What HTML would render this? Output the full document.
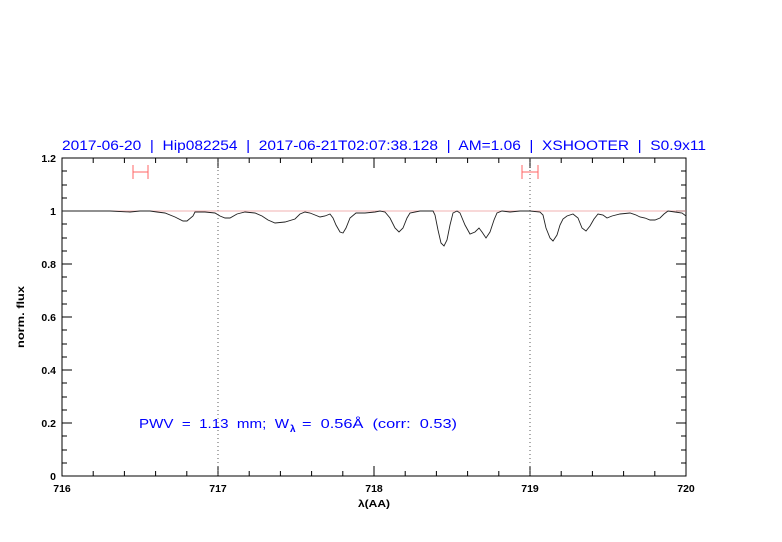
<!DOCTYPE html>
<html><head><style>body{margin:0;background:#fff}svg{display:block}</style></head><body>
<svg width="782" height="542" xmlns="http://www.w3.org/2000/svg" font-family="Liberation Sans, sans-serif">
<rect width="782" height="542" fill="#fff"/>
<text x="62" y="150" font-size="13.5" fill="#0000ff" textLength="644" lengthAdjust="spacingAndGlyphs" xml:space="preserve">2017-06-20  |  Hip082254  |  2017-06-21T02:07:38.128  |  AM=1.06  |  XSHOOTER  |  S0.9x11</text>
<g stroke="#000" stroke-width="1" fill="none">
<rect x="62" y="158" width="624" height="318"/>
<path d="M93.2,476v-5M124.4,476v-5M155.6,476v-5M186.8,476v-5M249.2,476v-5M280.4,476v-5M311.6,476v-5M342.8,476v-5M405.2,476v-5M436.4,476v-5M467.6,476v-5M498.8,476v-5M561.2,476v-5M592.4,476v-5M623.6,476v-5M654.8,476v-5
M218,476v-10M374,476v-10M530,476v-10
M93.2,158v5M124.4,158v5M155.6,158v5M186.8,158v5M249.2,158v5M280.4,158v5M311.6,158v5M342.8,158v5M405.2,158v5M436.4,158v5M467.6,158v5M498.8,158v5M561.2,158v5M592.4,158v5M623.6,158v5M654.8,158v5
M218,158v10M374,158v10M530,158v10"/>
<path d="M62,463h5M62,450h5M62,436h5M62,423h5M62,410h5M62,397h5M62,383h5M62,370h5M62,357h5M62,344h5M62,330h5M62,317h5M62,304h5M62,291h5M62,277h5M62,264h5M62,251h5M62,238h5M62,224h5M62,211h5M62,198h5M62,185h5M62,171h5M62,158h5
M62,423h10M62,370h10M62,317h10M62,264h10M62,211h10
M686,463h-5M686,450h-5M686,436h-5M686,423h-5M686,410h-5M686,397h-5M686,383h-5M686,370h-5M686,357h-5M686,344h-5M686,330h-5M686,317h-5M686,304h-5M686,291h-5M686,277h-5M686,264h-5M686,251h-5M686,238h-5M686,224h-5M686,198h-5M686,185h-5M686,171h-5
M686,423h-10M686,370h-10M686,317h-10M686,264h-10M686,211h-10"/>
</g>
<path d="M218,158V476M530,158V476" stroke="#333" stroke-width="0.8" stroke-dasharray="1,3"/>
<line x1="62" y1="211" x2="686" y2="211" stroke="#e99" stroke-width="0.7"/>
<path d="M133,165v14M148,165v14M133,172h15M522,165v14M538,165v14M522,172h16" stroke="#f66" stroke-width="1" fill="none"/>
<polyline fill="none" stroke="#222" stroke-width="0.9" points="62,211 72,211 110,211 130,212 140,211 150,211 157,212 165,213 175,217 183,221 187,221 193,216 195,212 205,212 215,213 220,216 225,218 230,218 237,214 245,212 255,213 262,216 268,220 275,223 285,222 295,219 300,214 305,212 310,213 315,215 320,217 325,216 330,214 333,218 336,225 340,232 343,233 346,228 350,218 356,213 365,213 375,212 380,211 385,212 390,218 395,228 399,232 403,228 407,218 410,213 420,211 433,211 435,215 438,230 441,243 444,246 447,240 450,225 453,213 457,211 460,213 465,225 470,234 475,232 479,228 482,232 486,238 490,232 494,220 497,213 502,211 510,212 520,211 530,211 540,212 543,215 546,228 550,238 553,241 557,235 560,225 563,219 567,216 573,214 578,218 582,228 586,231 590,226 594,219 598,214 603,215 607,218 612,216 620,214 630,213 636,215 640,217 645,218 650,220 655,220 660,218 664,214 668,211 675,212 682,213 686,216"/>
<g font-size="10.5" font-weight="bold" fill="#000" text-anchor="middle">
<text x="62" y="492">716</text><text x="218" y="492">717</text><text x="374" y="492">718</text><text x="530" y="492">719</text><text x="686" y="492">720</text>
</g>
<g font-size="10.5" font-weight="bold" fill="#000" text-anchor="end">
<text x="56" y="480">0</text><text x="56" y="427">0.2</text><text x="56" y="374">0.4</text><text x="56" y="321">0.6</text><text x="56" y="268">0.8</text><text x="56" y="215">1</text><text x="56" y="162">1.2</text>
</g>
<text x="374" y="507" font-size="10.5" font-weight="bold" text-anchor="middle" textLength="32" lengthAdjust="spacingAndGlyphs">λ(AA)</text>
<text transform="translate(24,317) rotate(-90)" font-size="10.5" font-weight="bold" text-anchor="middle" textLength="62" lengthAdjust="spacingAndGlyphs">norm. flux</text>
<text x="139" y="428" font-size="13" fill="#0000ff" xml:space="preserve" textLength="150" lengthAdjust="spacingAndGlyphs">PWV  =  1.13  mm;  W</text>
<text x="290" y="432" font-size="10" font-weight="bold" fill="#0000ff">λ</text>
<text x="302" y="428" font-size="13" fill="#0000ff" xml:space="preserve" textLength="155" lengthAdjust="spacingAndGlyphs">=  0.56Å  (corr:  0.53)</text>
</svg>
</body></html>
